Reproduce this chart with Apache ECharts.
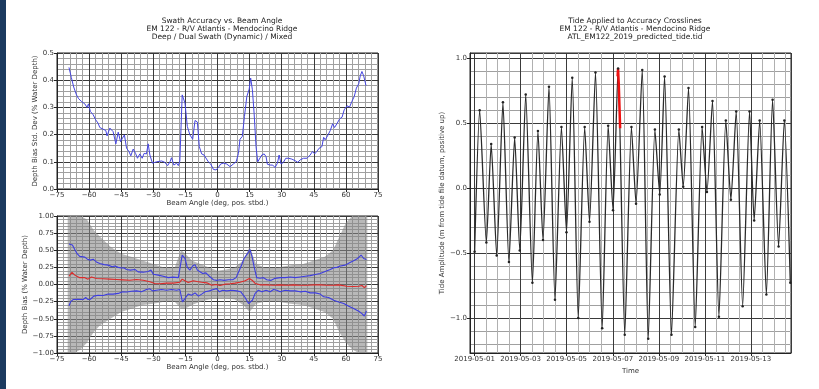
<!DOCTYPE html>
<html>
<head>
<meta charset="utf-8">
<script src="https://cdn.jsdelivr.net/npm/echarts@6/dist/echarts.min.js"></script>
<style>
html, body { margin: 0; padding: 0; background: #fff; }
#chart { width: 819px; height: 389px; }
</style>
</head>
<body>
<div id="chart"></div>
<script>
// 上图：测深偏差标准差 vs 波束角
const stdAngle = [-69.4,-68.3,-67.2,-65.9,-64.9,-63.6,-62.0,-61.0,-60.3,-59.4,-58.1,-56.9,-55.8,-55.0,-53.5,-52.2,-51.6,-50.3,-48.8,-47.5,-46.4,-45.3,-44.4,-43.5,-42.5,-41.4,-40.5,-39.4,-38.3,-37.4,-36.3,-35.2,-34.3,-33.2,-32.4,-31.6,-30.4,-28.5,-26.1,-24.6,-23.3,-22.2,-21.5,-20.4,-19.1,-18.3,-17.6,-16.5,-15.2,-14.1,-12.9,-11.6,-10.5,-9.4,-8.5,-7.4,-6.3,-5.4,-4.3,-3.2,-1.9,-0.7,0.4,1.5,2.7,4.3,5.9,7.4,8.7,9.8,10.5,11.6,12.6,13.7,14.8,15.5,16.3,17.1,18.0,18.8,19.6,20.7,21.8,22.7,23.3,24.6,25.8,26.9,28.0,28.8,29.7,30.8,31.9,33.2,34.7,36.3,37.5,38.6,40.2,41.8,43.3,44.4,45.4,46.4,47.5,48.8,49.6,50.3,51.4,52.7,53.8,54.7,55.8,57.1,58.2,59.2,60.5,61.7,62.8,63.9,64.9,66.0,66.7,67.5,68.3,69.4];
const stdDev = [0.447,0.41,0.375,0.346,0.332,0.322,0.313,0.30,0.313,0.285,0.273,0.254,0.242,0.226,0.22,0.215,0.195,0.224,0.211,0.166,0.209,0.174,0.187,0.199,0.15,0.138,0.122,0.147,0.131,0.113,0.129,0.113,0.131,0.129,0.166,0.125,0.095,0.10,0.103,0.098,0.086,0.10,0.115,0.088,0.095,0.086,0.103,0.346,0.316,0.23,0.199,0.183,0.252,0.246,0.156,0.129,0.125,0.131,0.10,0.092,0.072,0.07,0.079,0.092,0.095,0.092,0.082,0.092,0.10,0.131,0.183,0.193,0.267,0.34,0.367,0.408,0.365,0.279,0.156,0.10,0.107,0.125,0.129,0.119,0.091,0.088,0.088,0.079,0.095,0.125,0.092,0.098,0.113,0.113,0.11,0.104,0.098,0.107,0.113,0.113,0.125,0.138,0.129,0.138,0.15,0.156,0.19,0.181,0.195,0.215,0.24,0.226,0.24,0.258,0.264,0.291,0.306,0.301,0.322,0.34,0.371,0.387,0.416,0.432,0.416,0.38];

// 下图：偏差上包络（蓝）
const upAngle = [-69.4,-67.8,-66.7,-65.6,-64.4,-62.0,-60.8,-59.4,-58.1,-56.6,-55.0,-53.0,-51.1,-49.2,-48.0,-46.4,-44.9,-43.8,-42.5,-40.7,-38.6,-37.1,-34.7,-32.4,-31.1,-30.0,-27.7,-25.4,-23.0,-20.7,-18.3,-17.6,-16.5,-15.2,-14.1,-12.9,-11.6,-10.5,-9.4,-8.2,-6.9,-5.4,-3.8,-1.9,-0.4,1.2,3.1,5.1,7.1,8.7,9.9,11.2,12.4,14.0,15.2,16.2,17.1,18.3,19.9,21.5,23.0,24.9,26.9,29.3,31.6,34.0,36.3,38.6,41.0,43.3,45.7,48.0,50.3,52.7,54.3,55.8,57.4,59.7,61.7,63.6,65.5,67.1,68.3,69.6];
const upBias = [0.59,0.576,0.51,0.45,0.41,0.40,0.37,0.356,0.37,0.33,0.307,0.29,0.283,0.26,0.27,0.25,0.24,0.245,0.22,0.21,0.22,0.185,0.18,0.19,0.21,0.15,0.137,0.12,0.10,0.107,0.10,0.12,0.43,0.38,0.25,0.21,0.27,0.29,0.21,0.185,0.16,0.17,0.12,0.07,0.06,0.07,0.06,0.07,0.07,0.10,0.185,0.28,0.38,0.45,0.51,0.40,0.26,0.10,0.09,0.10,0.07,0.06,0.09,0.10,0.10,0.11,0.10,0.11,0.12,0.13,0.146,0.16,0.19,0.22,0.245,0.25,0.27,0.283,0.317,0.346,0.38,0.43,0.38,0.366];

// 下图：平均偏差（红）
const meanAngle = [-69.4,-68.0,-66.7,-64.4,-62.0,-60.5,-58.9,-56.6,-53.5,-50.3,-47.2,-44.1,-41.0,-37.8,-34.7,-31.6,-29.3,-26.9,-23.8,-20.7,-17.6,-16.5,-15.2,-13.7,-11.3,-9.7,-7.4,-5.0,-2.7,-0.7,1.2,3.5,5.9,8.2,10.5,12.9,14.9,15.5,16.5,17.6,19.9,23.0,26.2,29.3,32.4,35.6,38.6,41.8,44.9,48.0,51.1,54.3,56.6,57.4,60.5,63.6,66.0,67.5,68.6,69.6];
const meanBias = [0.12,0.176,0.137,0.10,0.10,0.078,0.11,0.088,0.083,0.078,0.073,0.068,0.063,0.073,0.063,0.04,0.015,0.01,0.02,0.02,0.034,0.078,0.054,0.03,0.054,0.044,0.034,0.024,-0.01,0.0,-0.015,0.005,0.01,0.02,0.034,0.054,0.088,0.10,0.054,0.015,-0.005,-0.005,-0.01,-0.005,-0.01,-0.005,-0.01,-0.01,-0.005,-0.005,-0.01,-0.01,-0.005,-0.025,-0.025,-0.03,-0.025,-0.015,-0.045,-0.015];

// 下图：偏差下包络（蓝）
const loAngle = [-69.4,-68.6,-67.5,-65.2,-62.8,-61.6,-60.5,-59.4,-57.8,-55.8,-53.5,-51.1,-48.8,-46.4,-44.4,-42.5,-40.2,-37.8,-35.5,-33.2,-31.6,-30.4,-28.5,-26.1,-23.8,-21.5,-19.1,-17.6,-16.4,-15.2,-13.7,-12.1,-10.5,-8.9,-7.4,-5.8,-3.8,-1.9,-0.4,0.9,2.4,4.3,6.7,9.0,10.9,12.9,14.5,15.2,16.3,17.6,19.1,20.7,22.7,24.6,26.2,27.7,29.3,31.6,34.0,36.3,38.6,41.0,43.3,45.7,48.0,49.6,51.9,54.3,56.6,59.0,61.3,63.6,66.0,67.5,68.6,69.6];
const loBias = [-0.31,-0.25,-0.22,-0.215,-0.22,-0.19,-0.22,-0.215,-0.17,-0.156,-0.16,-0.14,-0.14,-0.13,-0.107,-0.11,-0.098,-0.093,-0.107,-0.073,-0.063,-0.093,-0.083,-0.073,-0.083,-0.073,-0.083,-0.073,-0.254,-0.205,-0.14,-0.156,-0.122,-0.17,-0.14,-0.107,-0.093,-0.073,-0.06,-0.107,-0.083,-0.093,-0.083,-0.093,-0.107,-0.19,-0.278,-0.29,-0.23,-0.13,-0.083,-0.107,-0.083,-0.107,-0.073,-0.083,-0.107,-0.083,-0.093,-0.093,-0.107,-0.098,-0.122,-0.122,-0.14,-0.18,-0.19,-0.23,-0.254,-0.278,-0.317,-0.35,-0.39,-0.425,-0.46,-0.385];

// 下图：散点云的大致范围（灰色带）
const cloudAngle = [-70,-67,-64,-61,-58,-55,-50,-45,-40,-35,-30,-25,-20,-17,-15,-12,-8,-4,0,4,8,12,15,18,22,28,34,40,45,50,54,57,60,63,66,70];
const cloudHigh = [1.0,1.0,1.0,0.95,0.8,0.7,0.55,0.45,0.4,0.35,0.3,0.25,0.25,0.5,0.45,0.35,0.3,0.25,0.2,0.22,0.25,0.35,0.55,0.3,0.25,0.25,0.28,0.3,0.35,0.4,0.5,0.7,0.9,1.0,1.0,1.0];
const cloudLow = [-1.0,-1.0,-0.95,-0.85,-0.7,-0.6,-0.5,-0.4,-0.35,-0.3,-0.28,-0.25,-0.25,-0.35,-0.35,-0.3,-0.25,-0.22,-0.2,-0.2,-0.22,-0.3,-0.4,-0.28,-0.25,-0.25,-0.28,-0.3,-0.35,-0.4,-0.5,-0.7,-0.85,-0.95,-1.0,-1.0];

// 右图：潮位极值（自 2019-05-01 00:00 起的天数）
const tideDay = [0.0,0.22,0.51,0.72,0.96,1.23,1.49,1.74,1.96,2.22,2.51,2.75,2.97,3.23,3.49,3.77,3.99,4.24,4.50,4.78,4.99,5.25,5.54,5.80,6.01,6.23,6.52,6.81,7.01,7.28,7.54,7.83,8.04,8.25,8.55,8.87,9.06,9.29,9.58,9.88,10.09,10.33,10.61,10.91,11.13,11.36,11.64,11.94,12.14,12.38,12.67,12.94,13.20,13.45,13.71];
const tideAmp = [-0.49,0.60,-0.42,0.34,-0.52,0.66,-0.57,0.39,-0.48,0.72,-0.73,0.44,-0.40,0.78,-0.86,0.47,-0.34,0.85,-1.00,0.47,-0.26,0.89,-1.08,0.48,-0.17,0.92,-1.13,0.47,-0.12,0.91,-1.16,0.45,-0.05,0.86,-1.13,0.45,0.01,0.77,-1.07,0.47,-0.03,0.67,-0.99,0.52,-0.09,0.59,-0.91,0.59,-0.25,0.52,-0.82,0.68,-0.45,0.52,-0.73];
// 红色：测线时段
const lineDay = [6.21,6.23,6.26,6.32];
const lineAmp = [0.86,0.92,0.80,0.46];

const dateLabels = ['2019-05-01','2019-05-03','2019-05-05','2019-05-07','2019-05-09','2019-05-11','2019-05-13'];

const zip = (a, b) => a.map((v, i) => [v, b[i]]);
const minus = (v, d) => (v < -1e-9 ? '\u2212' : '') + Math.abs(v).toFixed(d);
const FONT = 'DejaVu Sans';

function makeAxis(gridIndex, extra) {
  return Object.assign({
    type: 'value',
    gridIndex: gridIndex,
    axisLine: { show: true, onZero: false, lineStyle: { color: '#222', width: 1 } },
    axisTick: { show: true, length: 3, lineStyle: { color: '#222' } },
    axisLabel: { fontSize: 7, color: '#333', fontFamily: FONT, margin: 3 },
    splitLine: { show: true, lineStyle: { color: '#3a3a3a', width: 1 } },
    minorTick: { show: false, splitNumber: 5 },
    minorSplitLine: { show: true, lineStyle: { color: '#a0a0a0', width: 1 } },
    nameLocation: 'middle',
    nameTextStyle: { fontSize: 7, color: '#333', fontFamily: FONT }
  }, extra);
}

const titleStyle = { fontSize: 7.5, lineHeight: 8, fontWeight: 'normal', color: '#222', fontFamily: FONT };

const chart = echarts.init(document.getElementById('chart'));
chart.setOption({
  animation: false,
  backgroundColor: '#fff',
  graphic: [{ type: 'rect', left: 0, top: 0, shape: { width: 6, height: 389 }, style: { fill: '#1b3a5f' } }],
  title: [
    { text: 'Swath Accuracy vs. Beam Angle\nEM 122 - R/V Atlantis - Mendocino Ridge\nDeep / Dual Swath (Dynamic) / Mixed',
      left: 217, top: 12, textAlign: 'center', textStyle: titleStyle },
    { text: 'Tide Applied to Accuracy Crosslines\nEM 122 - R/V Atlantis - Mendocino Ridge\nATL_EM122_2019_predicted_tide.tid',
      left: 630, top: 12, textAlign: 'center', textStyle: titleStyle }
  ],
  grid: [
    { left: 57, top: 53, width: 321, height: 136, show: true, borderColor: '#222', borderWidth: 1 },
    { left: 57, top: 216, width: 321, height: 137, show: true, borderColor: '#222', borderWidth: 1 },
    { left: 470, top: 53, width: 321, height: 300, show: true, borderColor: '#222', borderWidth: 1 }
  ],
  xAxis: [
    makeAxis(0, { min: -75, max: 75, interval: 15, name: 'Beam Angle (deg, pos. stbd.)', nameGap: 11,
      axisLabel: { fontSize: 7, color: '#333', fontFamily: FONT, margin: 3, formatter: v => minus(v, 0) } }),
    makeAxis(1, { min: -75, max: 75, interval: 15, name: 'Beam Angle (deg, pos. stbd.)', nameGap: 11,
      axisLabel: { fontSize: 7, color: '#333', fontFamily: FONT, margin: 3, formatter: v => minus(v, 0) } }),
    makeAxis(2, { min: -0.2, max: 13.74, splitNumber: 7, name: 'Time', nameGap: 11,
      minorTick: { show: false, splitNumber: 4 },
      minorSplitLine: { show: true, lineStyle: { color: '#b0b0b0', width: 1 } },
      axisLabel: { fontSize: 7, color: '#333', fontFamily: FONT, margin: 3, showMinLabel: false, showMaxLabel: false,
        formatter: v => { const k = v / 2; if (Math.abs(k - Math.round(k)) > 1e-6) return ''; return dateLabels[Math.round(k)] || ''; } } })
  ],
  yAxis: [
    makeAxis(0, { min: 0, max: 0.5, interval: 0.1, name: 'Depth Bias Std. Dev (% Water Depth)', nameGap: 11,
      axisLabel: { fontSize: 7, color: '#333', fontFamily: FONT, margin: 3, formatter: v => minus(v, 1) } }),
    makeAxis(1, { min: -1, max: 1, interval: 0.25, name: 'Depth Bias (% Water Depth)', nameGap: 21,
      axisLabel: { fontSize: 7, color: '#333', fontFamily: FONT, margin: 3, formatter: v => minus(v, 2) } }),
    makeAxis(2, { min: -1.27, max: 1.04, splitNumber: 5, name: 'Tide Amplitude (m from tide file datum, positive up)', nameGap: 15,
      axisLabel: { fontSize: 7, color: '#333', fontFamily: FONT, margin: 3, showMinLabel: false, showMaxLabel: false,
        formatter: v => { const k = v * 2; if (Math.abs(k - Math.round(k)) > 1e-6) return ''; return minus(v, 1); } } })
  ],
  series: [
    { type: 'line', xAxisIndex: 0, yAxisIndex: 0, data: zip(stdAngle, stdDev), showSymbol: false,
      lineStyle: { color: '#4646e0', width: 1 } },
    // 灰色散点云带
    { type: 'custom', xAxisIndex: 1, yAxisIndex: 1, data: [[0, 0]], silent: true, clip: true, z: 1,
      renderItem: (params, api) => {
        const top = cloudAngle.map((a, i) => api.coord([a, cloudHigh[i]]));
        const bottom = cloudAngle.map((a, i) => api.coord([a, cloudLow[i]])).reverse();
        return { type: 'polygon', shape: { points: top.concat(bottom) }, style: { fill: 'rgba(135,135,135,0.58)' } };
      } },
    { type: 'line', xAxisIndex: 1, yAxisIndex: 1, data: zip(upAngle, upBias), showSymbol: false,
      lineStyle: { color: '#3d3de0', width: 1.1 } },
    { type: 'line', xAxisIndex: 1, yAxisIndex: 1, data: zip(loAngle, loBias), showSymbol: false,
      lineStyle: { color: '#3d3de0', width: 1.1 } },
    { type: 'line', xAxisIndex: 1, yAxisIndex: 1, data: zip(meanAngle, meanBias), showSymbol: false,
      lineStyle: { color: '#dd2a2a', width: 1.1 } },
    { type: 'line', xAxisIndex: 2, yAxisIndex: 2, data: zip(tideDay, tideAmp), smooth: 0.2,
      symbol: 'circle', symbolSize: 2.5, itemStyle: { color: '#222' }, lineStyle: { color: '#2a2a2a', width: 1.3 } },
    { type: 'line', xAxisIndex: 2, yAxisIndex: 2, data: zip(lineDay, lineAmp), showSymbol: false,
      lineStyle: { color: '#ee1111', width: 2.5 } }
  ]
});
</script>
</body>
</html>
